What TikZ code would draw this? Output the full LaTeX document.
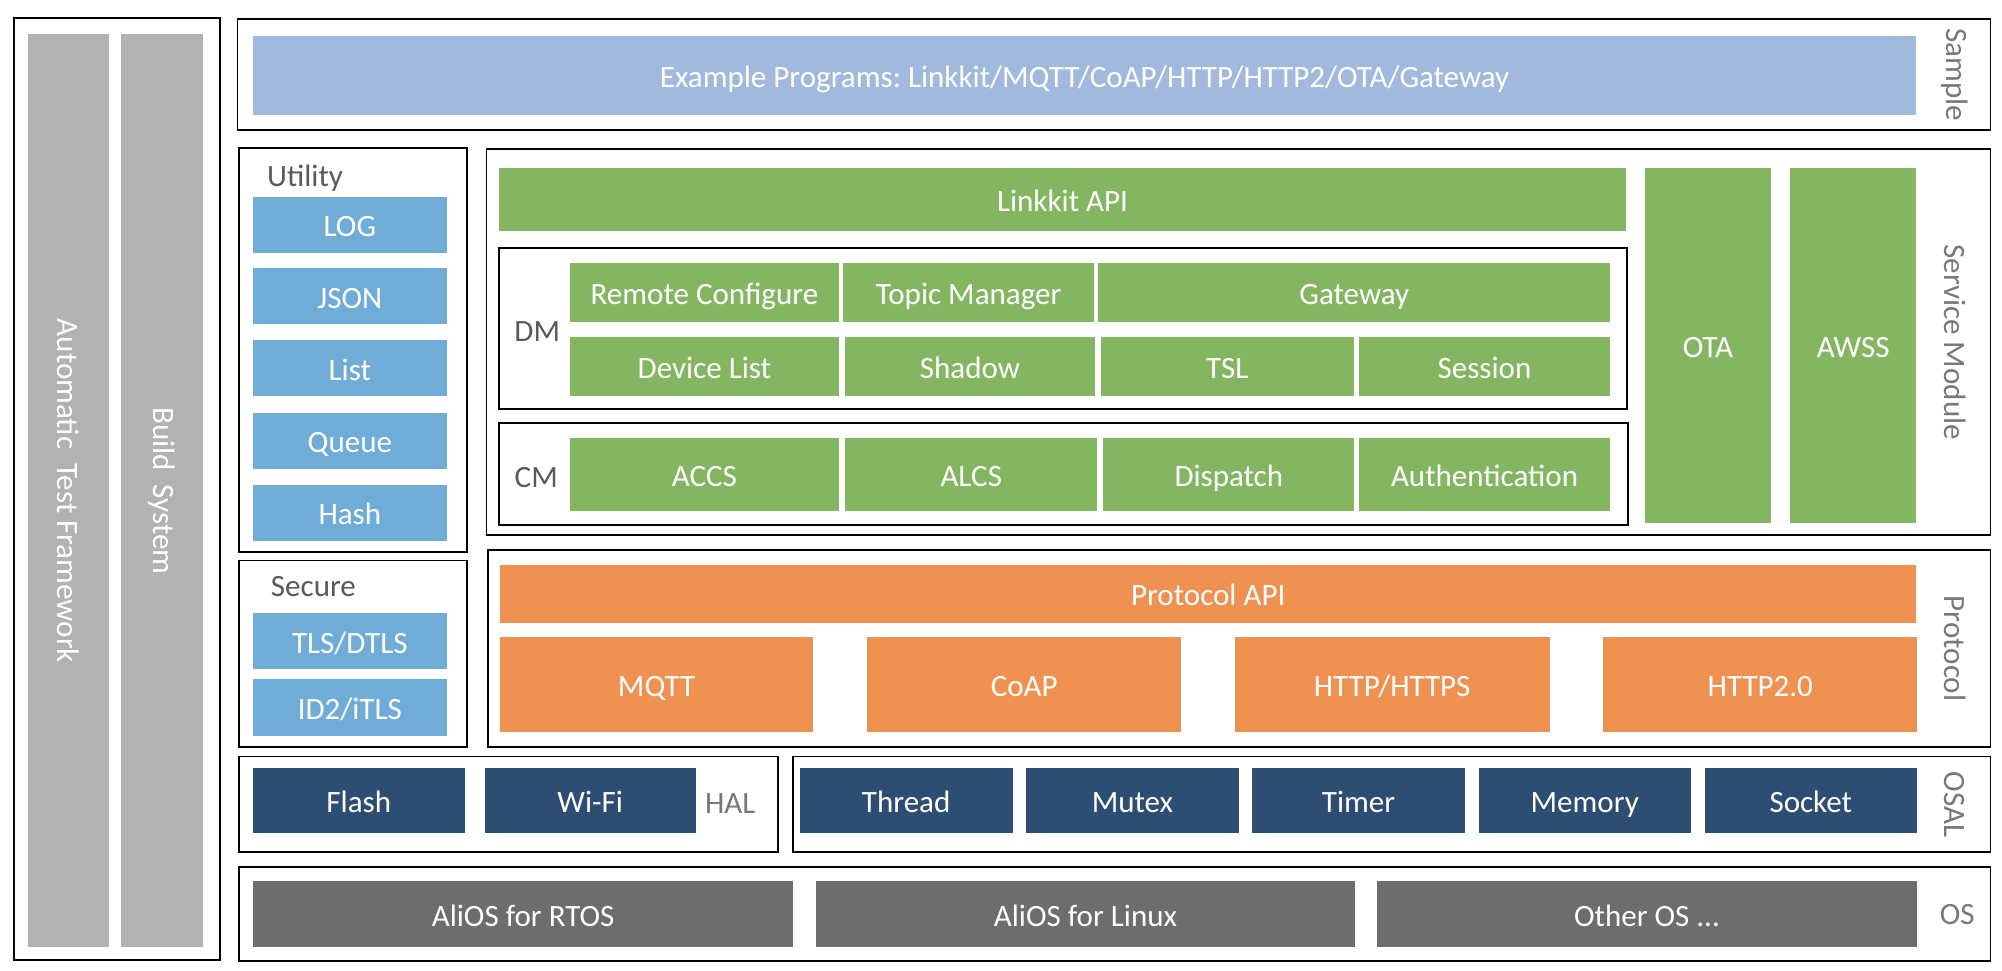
\documentclass[tikz,border=0pt]{standalone}
\usepackage{fontspec}
\setmainfont{Carlito}
\frenchspacing
\definecolor{samplebg}{RGB}{162,185,222}
\definecolor{utilbg}{RGB}{112,172,216}
\definecolor{svcbg}{RGB}{132,182,98}
\definecolor{protobg}{RGB}{238,145,81}
\definecolor{halbg}{RGB}{46,77,115}
\definecolor{osbg}{RGB}{109,109,109}
\definecolor{toolbg}{RGB}{178,178,178}
\definecolor{lblgray}{RGB}{90,90,90}
\definecolor{sidegray}{RGB}{120,120,120}
\newcommand{\boxfont}{\fontsize{24.3}{28}\selectfont}

\begin{document}
\begin{tikzpicture}[x=1pt,y=-1pt,
  frame/.style={line width=1.5pt},
  blk/.style={anchor=north west,inner sep=0pt,text=white,font=\boxfont,text height=19pt,text depth=0pt},
  bar/.style={rotate=-90,inner sep=0pt,fill=toolbg,text=white,font=\boxfont},
  lbl/.style={inner sep=0pt,text=lblgray,font=\boxfont},
  side/.style={inner sep=0pt,text=sidegray,font=\boxfont,rotate=-90}]
\useasboundingbox (0,0) rectangle (1568,760);

% tools on the left
\draw[frame] (11,14) rectangle (172,752);
\node[bar,minimum width=715,minimum height=63] (atf) at (53.5,384.5) {Automatic\ \ Test Framework};
\node[bar,minimum width=715,minimum height=64] (build) at (127,384.5) {Build\ \ System};

% sample
\draw[frame] (186,15) rectangle (1559,102);
\node[blk,fill=samplebg,minimum width=1302.5,minimum height=61.3] (sample) at (198,28.2) {Example Programs: Linkkit/MQTT/CoAP/HTTP/HTTP2/OTA/Gateway};
\node[side] (samplelbl) at (1531,58.5) {Sample};

% utility
\draw[frame] (187,116) rectangle (366,432);
\node[lbl,anchor=west] (utillbl) at (209,139.7) {Utility};
\node[blk,fill=utilbg,minimum width=151.6,minimum height=44] (log) at (198,153.8) {LOG};
\node[blk,fill=utilbg,minimum width=151.6,minimum height=44] (json) at (198,209.9) {JSON};
\node[blk,fill=utilbg,minimum width=151.6,minimum height=44] (list) at (198,266.3) {List};
\node[blk,fill=utilbg,minimum width=151.6,minimum height=44] (queue) at (198,323) {Queue};
\node[blk,fill=utilbg,minimum width=151.6,minimum height=44] (hash) at (198,379.3) {Hash};

% secure
\draw[frame] (187,439) rectangle (366,585);
\node[lbl,anchor=west] (seclbl) at (212,459.5) {Secure};
\node[blk,fill=utilbg,minimum width=151.6,minimum height=44.2] (tls) at (198,479.8) {TLS/DTLS};
\node[blk,fill=utilbg,minimum width=151.6,minimum height=44.4] (id2) at (198,531.8) {ID2/iTLS};

% service module
\draw[frame] (381,117) rectangle (1559,419);
\node[blk,fill=svcbg,minimum width=882,minimum height=50] (linkkit) at (391,131) {Linkkit API};
\node[blk,fill=svcbg,minimum width=98,minimum height=278.4] (ota) at (1288.5,131) {OTA};
\node[blk,fill=svcbg,minimum width=98.6,minimum height=278.4] (awss) at (1402,131) {AWSS};
\node[side] (svclbl) at (1531,268) {Service Module};

\draw[frame] (391,194) rectangle (1274,320);   % DM
\node[lbl] (dmlbl) at (420.8,259.8) {DM};
\node[blk,fill=svcbg,minimum width=211,minimum height=46.5] (remote) at (446,205.5) {Remote Configure};
\node[blk,fill=svcbg,minimum width=197,minimum height=46.5] (topic) at (660,205.5) {Topic Manager};
\node[blk,fill=svcbg,minimum width=401,minimum height=46.5] (gateway) at (860,205.5) {Gateway};
\node[blk,fill=svcbg,minimum width=211,minimum height=46.5] (devlist) at (446,263.5) {Device List};
\node[blk,fill=svcbg,minimum width=196,minimum height=46.5] (shadow) at (661.5,263.5) {Shadow};
\node[blk,fill=svcbg,minimum width=198,minimum height=46.5] (tsl) at (862,263.5) {TSL};
\node[blk,fill=svcbg,minimum width=197,minimum height=46.5] (session) at (1064,263.5) {Session};

\draw[frame] (391,331) rectangle (1275,411);   % CM
\node[lbl] (cmlbl) at (420,374.4) {CM};
\node[blk,fill=svcbg,minimum width=211,minimum height=57] (accs) at (446,343) {ACCS};
\node[blk,fill=svcbg,minimum width=197,minimum height=57] (alcs) at (662,343) {ALCS};
\node[blk,fill=svcbg,minimum width=196.5,minimum height=57] (dispatch) at (864,343) {Dispatch};
\node[blk,fill=svcbg,minimum width=197,minimum height=57] (auth) at (1064,343) {Authentication};

% protocol
\draw[frame] (382,431) rectangle (1559,585);
\node[blk,fill=protobg,minimum width=1109,minimum height=45.7] (protoapi) at (391.6,442) {Protocol API};
\node[blk,fill=protobg,minimum width=245,minimum height=74] (mqtt) at (391.6,499) {MQTT};
\node[blk,fill=protobg,minimum width=246,minimum height=74] (coap) at (679,499) {CoAP};
\node[blk,fill=protobg,minimum width=246.4,minimum height=74] (http) at (967,499) {HTTP/HTTPS};
\node[blk,fill=protobg,minimum width=246,minimum height=74] (http2) at (1255.5,499) {HTTP2.0};
\node[side] (protolbl) at (1531,508) {Protocol};

% HAL and OSAL
\draw[frame] (187,592.5) rectangle (609,667);
\node[blk,fill=halbg,minimum width=165.6,minimum height=51.6] (flash) at (198,601) {Flash};
\node[blk,fill=halbg,minimum width=165.3,minimum height=51.6] (wifi) at (379.4,601) {Wi-Fi};
\node[lbl,text=sidegray] (hallbl) at (572,629) {HAL};
\draw[frame] (621,592.5) rectangle (1559,667);
\node[blk,fill=halbg,minimum width=167,minimum height=51.6] (thread) at (626,601) {Thread};
\node[blk,fill=halbg,minimum width=166.5,minimum height=51.6] (mutex) at (803.5,601) {Mutex};
\node[blk,fill=halbg,minimum width=166.7,minimum height=51.6] (timer) at (980.5,601) {Timer};
\node[blk,fill=halbg,minimum width=166,minimum height=51.6] (memory) at (1158,601) {Memory};
\node[blk,fill=halbg,minimum width=166,minimum height=51.6] (socket) at (1335,601) {Socket};
\node[side] (osallbl) at (1531,630) {OSAL};

% OS
\draw[frame] (187.5,679) rectangle (1559,753);
\node[blk,fill=osbg,minimum width=423,minimum height=51.8] (rtos) at (198,689.7) {AliOS for RTOS};
\node[blk,fill=osbg,minimum width=422,minimum height=51.8] (linux) at (639,689.7) {AliOS for Linux};
\node[blk,fill=osbg,minimum width=422.5,minimum height=51.8] (otheros) at (1078.5,689.7) {Other OS ...};
\node[lbl,text=sidegray] (oslbl) at (1533,716) {OS};
\end{tikzpicture}
\end{document}
